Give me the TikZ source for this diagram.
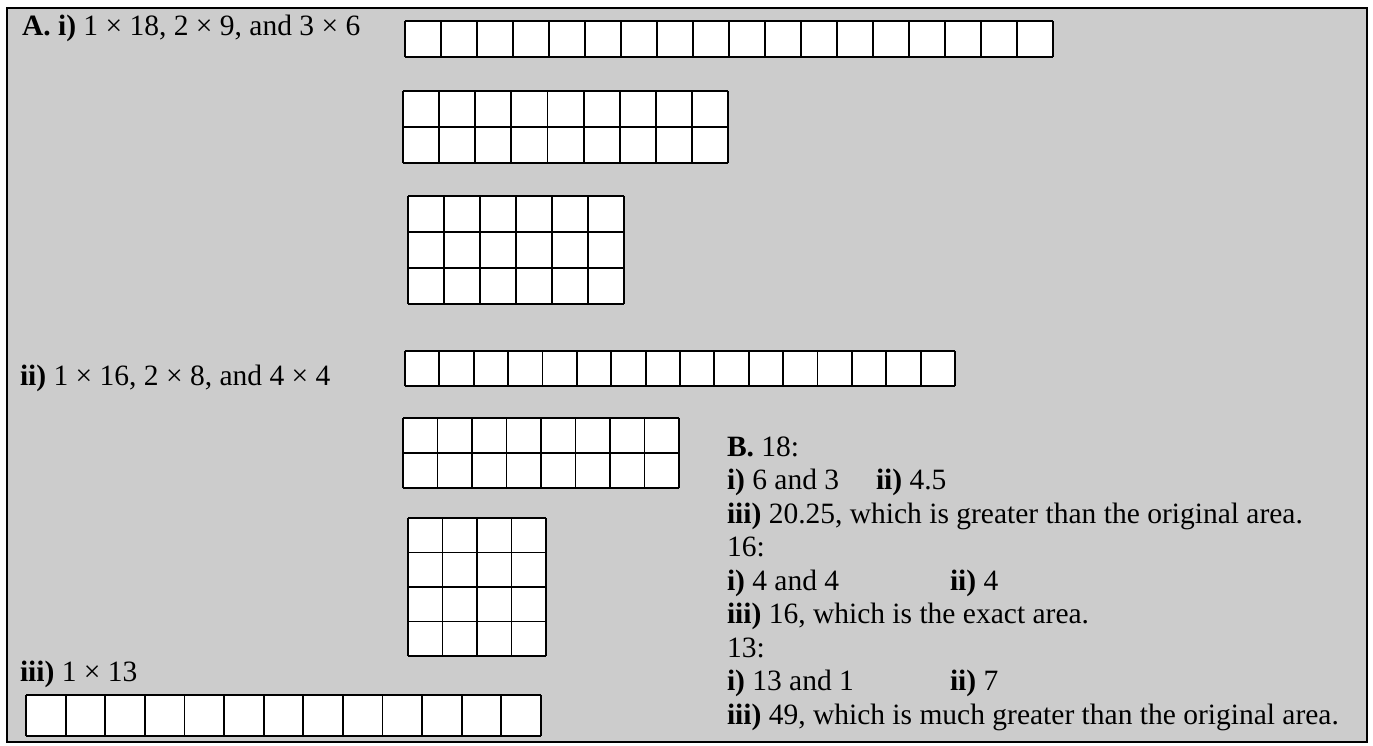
\documentclass[tikz,border=0pt]{standalone}
\usepackage{fontspec}
\setmainfont{Liberation Serif}
\tikzset{
  gridline/.style={draw=black, line width=1.9pt},
  frameline/.style={draw=black, line width=2.6pt},
  lbl/.style={anchor=base west, inner sep=0pt, outer sep=0pt, font=\fontsize{29.5}{33.5}\selectfont},
}
\newcommand{\cellgrid}[6]{%
  \fill[white] (#1,#2) rectangle (#3,#4);
  \foreach \i in {0,...,#5} {\draw[gridline] ({#1+(#3-#1)/#5*\i},#2) -- ({#1+(#3-#1)/#5*\i},#4);}
  \foreach \j in {0,...,#6} {\draw[gridline] (#1,{#2+(#4-#2)/#6*\j}) -- (#3,{#2+(#4-#2)/#6*\j});}
}
\begin{document}
\begin{tikzpicture}[x=1pt,y=-1pt]
\useasboundingbox (0,0) rectangle (1373,745);
\fill[white] (0,0) rectangle (1373,745);
\fill[fill={rgb,255:red,204;green,204;blue,204}] (7,8) rectangle (1367,742);

% part A i)
\cellgrid{405}{21}{1053}{57}{18}{1}
\cellgrid{403}{91}{728}{163}{9}{2}
\cellgrid{408}{196}{624}{304}{6}{3}
% part A ii)
\cellgrid{405}{351}{955}{386}{16}{1}
\cellgrid{403}{418}{679}{488}{8}{2}
\cellgrid{408}{518}{546}{656}{4}{4}
% part A iii)
\cellgrid{26}{695}{541}{736}{13}{1}

\draw[frameline] (7,8) rectangle (1367,742);

\node[lbl] (ai) at (22,35) {\textbf{A. i)} 1 × 18, 2 × 9, and 3 × 6};
\node[lbl] (aii) at (20,385) {\textbf{ii)} 1 × 16, 2 × 8, and 4 × 4};
\node[lbl] (aiii) at (20,681) {\textbf{iii)} 1 × 13};

\node[lbl] (b0) at (727,456) {\textbf{B.} 18:};
\node[lbl] (b1) at (727,489.5) {\textbf{i)} 6 and 3};
\node[lbl] (b1b) at (876,489.5) {\textbf{ii)} 4.5};
\node[lbl] (b2) at (727,523) {\textbf{iii)} 20.25, which is greater than the original area.};
\node[lbl] (b3) at (727,556.5) {16:};
\node[lbl] (b4) at (727,590) {\textbf{i)} 4 and 4};
\node[lbl] (b4b) at (950,590) {\textbf{ii)} 4};
\node[lbl] (b5) at (727,623.5) {\textbf{iii)} 16, which is the exact area.};
\node[lbl] (b6) at (727,657) {13:};
\node[lbl] (b7) at (727,690.5) {\textbf{i)} 13 and 1};
\node[lbl] (b7b) at (950,690.5) {\textbf{ii)} 7};
\node[lbl] (b8) at (727,724) {\textbf{iii)} 49, which is much greater than the original area.};
\end{tikzpicture}
\end{document}
